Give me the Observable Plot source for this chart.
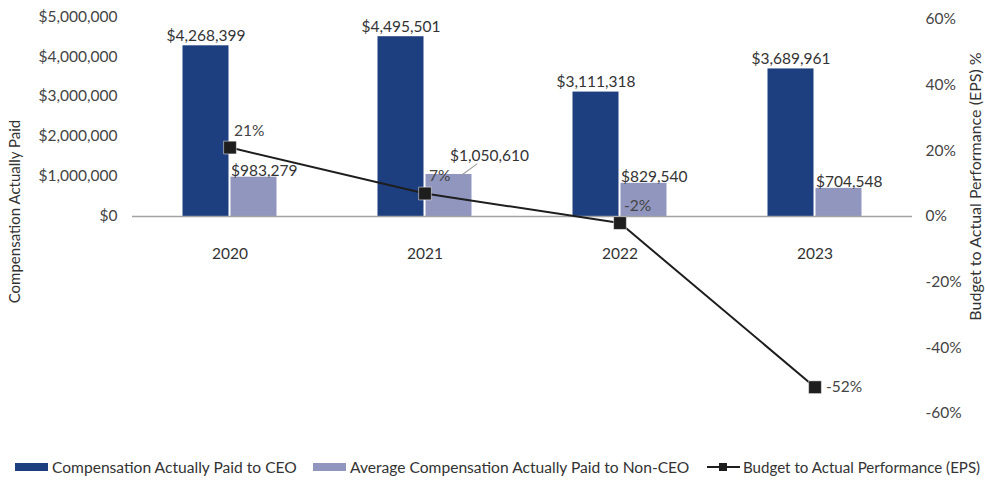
<!DOCTYPE html>
<html>
<head>
<meta charset="utf-8">
<script src="https://cdn.jsdelivr.net/npm/d3@7"></script>
<script src="https://cdn.jsdelivr.net/npm/@observablehq/plot@0.6"></script>
<style>
  html, body { margin: 0; padding: 0; background: #fff; }
  body { width: 985px; height: 485px; position: relative; overflow: hidden; font-family: Lato, "Noto Sans", sans-serif; }
  #legend { position: absolute; top: 457px; left: 0; width: 985px; height: 20px; font-size: 15.6px; color: #333; }
  .item { position: absolute; top: 0; height: 20px; display: flex; align-items: center; white-space: nowrap; }
  .sw { width: 33px; height: 8px; margin-right: 4px; }
  .lsw { width: 33px; height: 20px; margin-right: 3px; position: relative; }
  .lsw .ln { position: absolute; left: 0; right: 0; top: 9px; height: 2px; background: #1e1e1e; }
  .lsw .sq { position: absolute; left: 12px; top: 6px; width: 8px; height: 8px; background: #1e1e1e; }
</style>
</head>
<body>
<div id="chart"></div>
<div id="legend">
  <div class="item" style="left:15px"><div class="sw" style="background:#1d3f80"></div><span>Compensation Actually Paid to CEO</span></div>
  <div class="item" style="left:313px"><div class="sw" style="background:#9196bf"></div><span>Average Compensation Actually Paid to Non-CEO</span></div>
  <div class="item" style="left:707px"><div class="lsw"><div class="ln"></div><div class="sq"></div></div><span style="font-size:15.1px">Budget to Actual Performance (EPS)</span></div>
</div>
<script>
const years = ["2020", "2021", "2022", "2023"];
const ceoPay = [4268399, 4495501, 3111318, 3689961];
const nonCeoPay = [983279, 1050610, 829540, 704548];
const epsPct = [21, 7, -2, -52];
const dollarTicks = [0, 1000000, 2000000, 3000000, 4000000, 5000000];
const pctTicks = [-60, -40, -20, 0, 20, 40, 60];

// dollars -> percent units on the shared vertical scale ($5M sits at ~60.9%)
const K = 60.9 / 5000000;
const fmtD = d3.format("$,");

const data = years.map((y, i) => ({
  year: y, ceo: ceoPay[i], non: nonCeoPay[i], eps: epsPct[i]
}));

const labelColor = "#333";

const chart = Plot.plot({
  width: 985,
  height: 440,
  marginTop: 19,
  marginBottom: 27,
  marginLeft: 132,
  marginRight: 73,
  style: { fontFamily: "Lato, 'Noto Sans', sans-serif", fontSize: "15.5px", color: "#444", background: "#fff" },
  x: { type: "band", domain: years, padding: 0, axis: null },
  y: { domain: [-60, 60], axis: null },
  marks: [
    Plot.barY(data, { x: "year", y: d => d.ceo * K, fill: "#1d3f80", insetLeft: 50.5, insetRight: 98.5 }),
    Plot.barY(data, { x: "year", y: d => d.non * K, fill: "#9196bf", insetLeft: 98.5, insetRight: 50.5 }),
    Plot.ruleY([0], { stroke: "#a3a3a3", strokeWidth: 1.5 }),
    Plot.axisY({ ticks: dollarTicks.map(d => d * K), tickFormat: v => fmtD(Math.round(v / K / 1e6) * 1e6), tickSize: 0, tickPadding: 15, anchor: "left", label: null, fill: "#444", fontSize: 15.5 }),
    Plot.axisY({ ticks: pctTicks, tickFormat: v => v + "%", tickSize: 0, tickPadding: 13, anchor: "right", label: null, fill: "#444", fontSize: 15.5 }),
    Plot.text(data, { x: "year", y: 0, text: "year", dy: 38, fill: "#333" }),
    // CEO labels
    Plot.text(data, { x: "year", y: d => d.ceo * K, text: d => fmtD(d.ceo), dx: -24, dy: -5, lineAnchor: "bottom", fill: labelColor }),
    // Non-CEO labels
    Plot.text(data.filter(d => d.year !== "2021"), { x: "year", y: d => d.non * K, text: d => fmtD(d.non), dx: 1, dy: -1, lineAnchor: "bottom", textAnchor: "start", fill: labelColor }),
    Plot.text(data.filter(d => d.year === "2021"), { x: "year", y: d => d.non * K, text: d => fmtD(d.non), dx: 25, dy: -13, lineAnchor: "bottom", textAnchor: "start", fill: labelColor }),
    Plot.vector(data.filter(d => d.year === "2021"), {
      x: "year", y: d => d.non * K, dx: 37.5, length: 18, rotate: 54, anchor: "start",
      stroke: "#999", strokeWidth: 1,
      shape: { draw(context, l) { context.moveTo(0, 0); context.lineTo(0, -l); } }
    }),
    // EPS line
    Plot.line(data, { x: "year", y: "eps", stroke: "#1e1e1e", strokeWidth: 2 }),
    Plot.dot(data, { x: "year", y: "eps", symbol: "square", r: 7.2, fill: "#1e1e1e", stroke: "#fff", strokeWidth: 0.5 }),
    Plot.text(data.filter(d => d.eps > -50), { x: "year", y: "eps", text: d => d.eps + "%", dx: 4, dy: -17, textAnchor: "start", fill: "#444" }),
    Plot.text(data.filter(d => d.eps <= -50), { x: "year", y: "eps", text: d => d.eps + "%", dx: 11, dy: 0, textAnchor: "start", fill: "#444" }),
    // axis titles
    Plot.text(["Compensation Actually Paid"], { frameAnchor: "left", dx: -117, dy: -5, rotate: -90, textAnchor: "middle", fill: "#333", fontSize: 15 }),
    Plot.text(["Budget to Actual Performance (EPS) %"], { frameAnchor: "right", dx: 63, dy: -30, rotate: -90, textAnchor: "middle", fill: "#333", fontSize: 16, letterSpacing: "1.7px" })
  ]
});
document.getElementById("chart").appendChild(chart);
</script>
</body>
</html>
